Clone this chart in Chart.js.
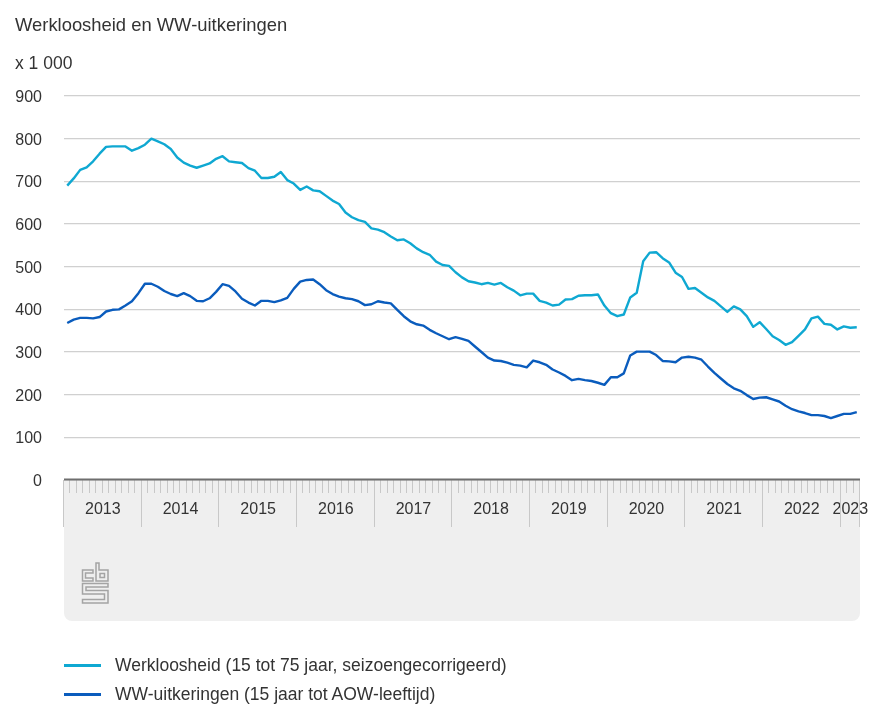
<!DOCTYPE html>
<html>
<head>
<meta charset="utf-8">
<script src="https://cdn.jsdelivr.net/npm/chart.js@4"></script>
<style>
  html, body { margin: 0; padding: 0; background: #fff; }
  #wrap { position: relative; width: 874px; height: 728px; overflow: hidden; }
  #legend { position: absolute; left: 64px; top: 651px; margin: 0; padding: 0; list-style: none;
    font: 17.5px "Liberation Sans", Arial, sans-serif; color: #333; }
  #legend li { display: flex; align-items: center; height: 29px; }
  #legend i { display: block; width: 37px; height: 2.5px; margin-right: 14px; }
</style>
</head>
<body>
<div id="wrap">
  <canvas id="myChart" width="874" height="728"></canvas>
  <ul id="legend"></ul>
</div>
<script>
// maandcijfers jan 2013 - mrt 2023, x 1 000
const werkloosheid = [
  690,707,727,733,747,765,781,782,782,782,772,778,
  786,800,794,787,776,756,744,737,732,737,742,753,
  759,747,745,743,731,725,708,708,711,722,703,695,
  680,688,679,677,666,655,647,627,616,609,605,590,
  587,581,571,562,564,555,543,534,528,512,504,502,
  487,475,466,463,459,462,458,462,452,444,433,437,
  437,420,416,409,411,423,424,432,433,433,435,409,
  391,384,388,428,439,513,533,534,520,510,486,476,
  448,450,439,428,420,407,394,407,400,384,359,370,
  354,337,328,317,323,338,353,379,383,366,364,353,
  360,357,358
];
const wwUitkeringen = [
  368,376,380,380,379,382,395,399,400,409,419,438,
  460,460,453,443,436,431,438,431,420,419,426,441,
  459,455,442,425,416,409,420,420,417,421,427,448,
  465,469,470,459,445,436,430,426,424,419,410,412,
  419,416,414,399,384,372,365,362,352,344,337,330,
  335,331,326,313,300,287,280,279,275,270,268,264,
  280,276,270,259,252,244,234,237,234,232,228,223,
  241,241,250,292,301,301,301,293,279,278,276,287,
  289,287,282,266,251,238,225,215,209,199,190,193,
  194,189,184,174,166,161,157,152,152,150,145,150,
  155,155,159
];
const yearLabels = ['2013','2014','2015','2016','2017','2018','2019','2020','2021','2022','2023'];
const yearStarts = [0,12,24,36,48,60,72,84,96,108,120,123]; // maandnummer waar elk jaar begint
const yLabels = [0,100,200,300,400,500,600,700,800,900];

const textColor = '#333333';
const fontFamily = '"Liberation Sans", Arial, sans-serif';
const font = { family: fontFamily, size: 16, weight: 'normal' };

// grijs vlak, streepjes en cbs logo onder de x-as
const xBand = {
  id: 'xBand',
  beforeDraw(chart) {
    const c = chart.ctx, a = chart.chartArea;
    c.save();
    c.fillStyle = '#efefef';
    c.beginPath();
    c.roundRect(a.left, a.bottom, a.right - a.left, 141, [0, 0, 8, 8]);
    c.fill();
    c.restore();
  },
  afterDraw(chart) {
    const c = chart.ctx, x = chart.scales.x, a = chart.chartArea;
    c.save();
    c.strokeStyle = '#c8c8c8';
    c.lineWidth = 1;
    for (let m = 0; m <= x.max; m++) {
      const px = Math.round(x.getPixelForValue(m)) - 0.5;
      const len = yearStarts.includes(m) ? 47 : 13;
      c.beginPath();
      c.moveTo(px, a.bottom);
      c.lineTo(px, a.bottom + len);
      c.stroke();
    }
    // as opnieuw over de streepjes
    c.strokeStyle = '#6e6e6e';
    c.lineWidth = 2;
    c.beginPath();
    c.moveTo(a.left, a.bottom - 0.5);
    c.lineTo(a.right, a.bottom - 0.5);
    c.stroke();
    // logo
    c.strokeStyle = '#a4a4a4';
    c.lineWidth = 1.5;
    c.translate(82, 562);
    c.stroke(new Path2D('M11 8H0.5V19H11V16H3.5V11H11Z'));
    c.stroke(new Path2D('M14 1H17V8H26V19H14Z M18 11.5H22.5V15.5H18Z'));
    c.stroke(new Path2D('M0.5 21.5H26V25H4V28.5H26V41H0.5V37.5H22.5V32H0.5Z'));
    c.restore();
  }
};

const chart = new Chart(document.getElementById('myChart'), {
  type: 'line',
  data: {
    datasets: [
      {
        label: 'Werkloosheid (15 tot 75 jaar, seizoengecorrigeerd)',
        data: werkloosheid.map((v, i) => ({ x: i + 0.5, y: v })),
        borderColor: '#0fa8d2'
      },
      {
        label: 'WW-uitkeringen (15 jaar tot AOW-leeftijd)',
        data: wwUitkeringen.map((v, i) => ({ x: i + 0.5, y: v })),
        borderColor: '#0a5cbd'
      }
    ]
  },
  options: {
    responsive: false,
    animation: false,
    elements: {
      point: { radius: 0 },
      line: { borderWidth: 2.4, tension: 0, borderJoinStyle: 'round' }
    },
    layout: { padding: { left: 15, right: 14, top: 0, bottom: 100 } },
    plugins: {
      legend: { display: false },
      tooltip: { enabled: false },
      title: {
        display: true,
        text: 'Werkloosheid en WW-uitkeringen',
        align: 'start',
        color: textColor,
        font: { family: fontFamily, size: 18.4, weight: 'normal' },
        padding: { top: 15, bottom: 16.5 }
      },
      subtitle: {
        display: true,
        text: 'x 1 000',
        align: 'start',
        color: textColor,
        font: { family: fontFamily, size: 17.5, weight: 'normal' },
        padding: { top: 0, bottom: 21.5 }
      }
    },
    scales: {
      x: {
        type: 'linear',
        min: 0,
        max: 123,
        grid: { display: false },
        border: { display: false },
        afterBuildTicks(scale) {
          scale.ticks = yearLabels.map((y, i) => ({ value: (yearStarts[i] + yearStarts[i + 1]) / 2 }));
        },
        afterFit(scale) {
          scale.height = 148;
          scale.paddingLeft = 0;
          scale.paddingRight = 0;
        },
        ticks: {
          autoSkip: false,
          maxRotation: 0,
          minRotation: 0,
          padding: 12,
          color: textColor,
          font: font,
          callback: (v, i) => yearLabels[i]
        }
      },
      y: {
        min: 0,
        max: 900,
        afterBuildTicks(scale) {
          scale.ticks = yLabels.map(v => ({ value: v }));
        },
        afterFit(scale) { scale.width = 49; },
        grid: { color: '#d0d0d0', lineWidth: 1.2, drawTicks: false },
        border: { display: false },
        ticks: {
          padding: 22,
          labelOffset: 1.5,
          color: textColor,
          font: font
        }
      }
    }
  },
  plugins: [xBand]
});

// legenda
const legend = document.getElementById('legend');
chart.data.datasets.forEach(ds => {
  const li = document.createElement('li');
  const line = document.createElement('i');
  line.style.background = ds.borderColor;
  li.appendChild(line);
  li.appendChild(document.createTextNode(ds.label));
  legend.appendChild(li);
});
</script>
</body>
</html>
